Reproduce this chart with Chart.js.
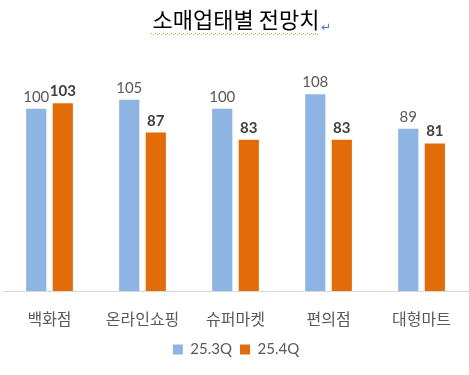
<!DOCTYPE html>
<html>
<head>
<meta charset="utf-8">
<script src="https://cdn.jsdelivr.net/npm/chart.js@4/dist/chart.umd.min.js"></script>
<style>
html,body{margin:0;padding:0;background:#fff;}
#wrap{width:469px;height:375px;position:relative;}
</style>
</head>
<body>
<div id="wrap"><canvas id="c" width="469" height="375"></canvas></div>
<script>
const titleText = '소매업태별 전망치';
const categories = ['백화점', '온라인쇼핑', '슈퍼마켓', '편의점', '대형마트'];
const seriesNames = ['25.3Q', '25.4Q'];
const values253Q = [100, 105, 100, 108, 89];
const values254Q = [103, 87, 83, 83, 81];

const BLUE = '#8DB4E2';
const ORANGE = '#E36C0A';
const KFONT = '"Noto Sans CJK KR", "Noto Sans", sans-serif';
const NFONT = 'Lato, "Noto Sans", sans-serif';

const valueLabels = {
  id: 'valueLabels',
  afterDatasetsDraw(chart) {
    const ctx = chart.ctx;
    ctx.save();
    ctx.textAlign = 'center';
    ctx.textBaseline = 'alphabetic';
    chart.data.datasets.forEach((ds, di) => {
      const meta = chart.getDatasetMeta(di);
      meta.data.forEach((bar, i) => {
        if (di === 0) {
          ctx.font = '400 15px ' + NFONT;
          ctx.fillStyle = '#595959';
        } else {
          ctx.font = '700 15px ' + NFONT;
          ctx.fillStyle = '#404040';
        }
        ctx.fillText(String(ds.data[i]), bar.x, bar.y - 7);
      });
    });
    ctx.restore();
  }
};

const titleDecor = {
  id: 'titleDecor',
  afterDraw(chart) {
    const ctx = chart.ctx;
    ctx.save();
    ctx.font = '400 22px ' + KFONT;
    const w = ctx.measureText(titleText).width;
    const cx = chart.width / 2;
    const x0 = cx - w / 2, x1 = cx + w / 2;
    const yU = 33;
    ctx.fillStyle = '#C8A040';
    for (let x = x0; x < x1; x += 2) {
      ctx.fillRect(x, yU + ((Math.round((x - x0) / 2) % 2) ? 1 : 0), 1, 1);
    }
    ctx.fillStyle = '#4A78C8';
    ctx.font = '400 12px "DejaVu Sans", sans-serif';
    ctx.textAlign = 'left';
    ctx.textBaseline = 'alphabetic';
    ctx.fillText('↵', x1 + 3, 31);
    ctx.restore();
  }
};

new Chart(document.getElementById('c'), {
  type: 'bar',
  data: {
    labels: categories,
    datasets: [
      { label: seriesNames[0], data: values253Q, backgroundColor: BLUE },
      { label: seriesNames[1], data: values254Q, backgroundColor: ORANGE }
    ]
  },
  options: {
    responsive: false,
    animation: false,
    devicePixelRatio: 1,
    layout: { padding: { left: 3, right: 0, top: 0, bottom: 8 } },
    datasets: { bar: { categoryPercentage: 0.571, barPercentage: 0.76 } },
    scales: {
      x: {
        grid: { display: false, drawTicks: false },
        border: { display: true, color: '#D9D9D9', width: 1 },
        ticks: { color: '#595959', font: { family: KFONT, size: 16 }, padding: 18, maxRotation: 0, autoSkip: false },
        afterFit(scale) { scale.height = 43; }
      },
      y: {
        display: false,
        min: 0,
        max: 120
      }
    },
    plugins: {
      title: {
        display: true,
        text: titleText,
        color: '#000',
        font: { family: KFONT, size: 22, weight: '400' },
        padding: { top: 6, bottom: 40 }
      },
      legend: {
        position: 'bottom',
        labels: {
          color: '#595959',
          font: { family: NFONT, size: 15 },
          boxWidth: 10,
          boxHeight: 10,
          padding: 8
        }
      },
      tooltip: { enabled: false }
    }
  },
  plugins: [valueLabels, titleDecor]
});
</script>
</body>
</html>
